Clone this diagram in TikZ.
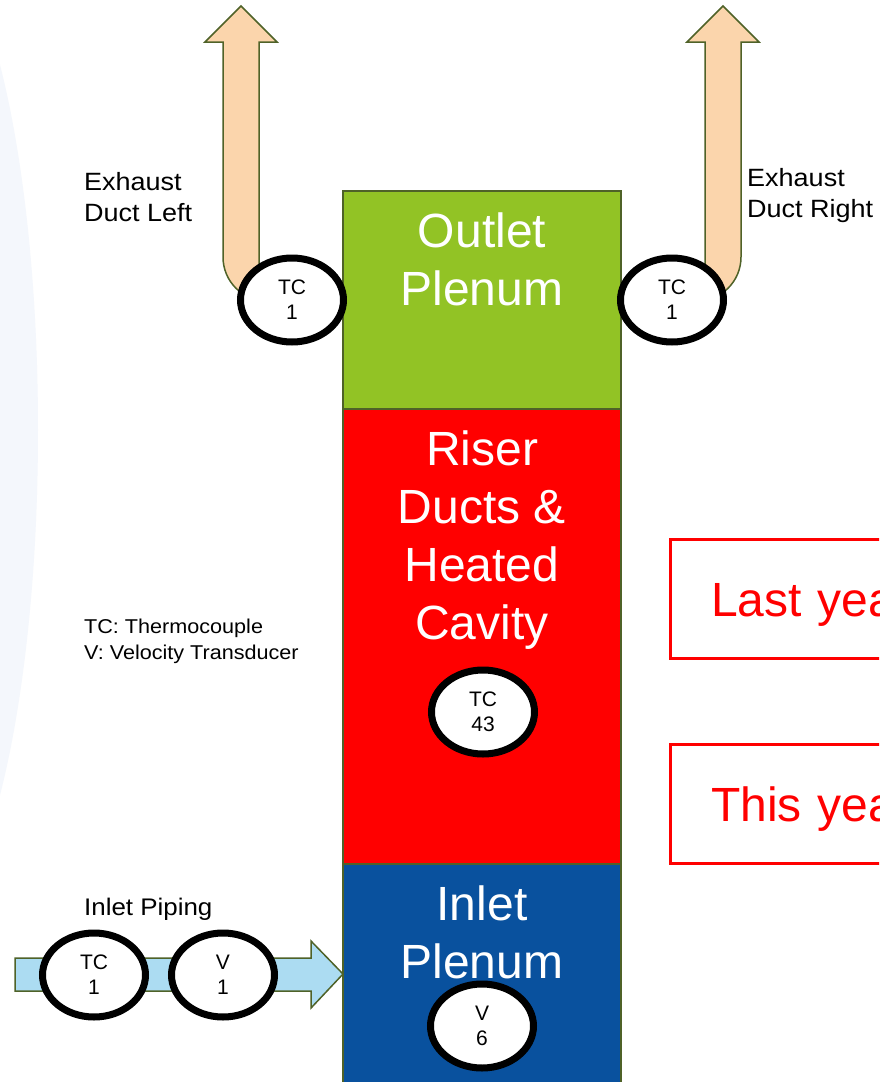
\documentclass[tikz,border=0pt]{standalone}
\usepackage{fontspec}
\setmainfont{Liberation Sans}
\newfontfamily\widesans[FakeStretch=1.08]{Liberation Sans}
\usetikzlibrary{positioning,shapes.geometric}
\definecolor{OliveEdge}{RGB}{79,98,40}
\definecolor{OutletGreen}{RGB}{146,195,37}
\definecolor{RiserRed}{RGB}{255,0,0}
\definecolor{InletBlue}{RGB}{9,81,158}
\definecolor{ExhaustPeach}{RGB}{251,213,172}
\definecolor{PipeBlue}{RGB}{172,220,242}
\definecolor{FaintBlue}{RGB}{244,247,252}
\newcommand{\plenumfont}{\fontsize{48}{58}\selectfont}
\newcommand{\labelfont}{\widesans\fontsize{25}{31}\selectfont}
\newcommand{\legendfont}{\widesans\fontsize{20}{25.5}\selectfont}
\newcommand{\sensorfont}{\fontsize{21}{25}\selectfont}
\tikzset{
  plenum/.style={draw=OliveEdge,line width=2pt,minimum width=278pt,outer sep=0pt,
    inner sep=0pt},
  plenumtext/.style={text=white,font=\plenumfont,align=center,inner sep=0pt},
  sensor/.style={ellipse,draw=black,fill=white,line width=7pt,minimum width=103pt,
    minimum height=84pt,inner sep=0pt,font=\sensorfont,align=center},
  duct/.style={draw=OliveEdge,line width=1.5pt,fill=ExhaustPeach},
  pipe/.style={draw=OliveEdge,line width=1.5pt,fill=PipeBlue},
  tag/.style={font=\labelfont,align=left,inner sep=0pt,anchor=north west},
  yearbox/.style={draw=red,line width=3pt,fill=white,text=red,font=\plenumfont,
    minimum height=119pt,text width=250pt,inner xsep=41pt,inner ysep=0pt,
    text height=35pt,text depth=0pt,align=left,outer sep=0pt,anchor=north west}
}

\begin{document}
\begin{tikzpicture}[x=1pt,y=-1pt,node distance=0pt]
  \useasboundingbox (0,0) rectangle (879,1082);
  \clip (0,0) rectangle (879,1082);
  \fill[white] (0,0) rectangle (879,1082);
  \fill[FaintBlue] (-82,430) ellipse [x radius=120pt,y radius=500pt];
  % test column
  \node[plenum,fill=OutletGreen,minimum height=218pt] (outlet) at (482,300) {};
  \node[plenum,fill=RiserRed,minimum height=455pt,below=of outlet] (riser) {};
  \node[plenum,fill=InletBlue,minimum height=260pt,below=of riser] (inlet) {};
  \node[plenumtext,below=22pt of outlet.north] (outlettext) {Outlet\\Plenum};
  \node[plenumtext,below=22pt of riser.north] (risertext) {Riser\\Ducts \&\\Heated\\Cavity};
  \node[plenumtext,below=22pt of inlet.north] (inlettext) {Inlet\\Plenum};
  % exhaust ducts
  \draw[duct] (223,42) -- (223,257) to[out=-90,in=180] (267,301) -- (292,301)
    -- (292,280) -- (259,280) -- (259,42) -- (277,42) -- (241,6) -- (205,42) -- cycle;
  \draw[duct] (741,42) -- (741,257) to[out=-90,in=0] (697,301) -- (672,301)
    -- (672,280) -- (705,280) -- (705,42) -- (687,42) -- (723,6) -- (759,42) -- cycle;
  % inlet piping
  \draw[pipe] (15,958) -- (311,958) -- (311,941) -- (343,974) -- (311,1008)
    -- (311,991) -- (15,991) -- cycle;
  % sensors
  \node[sensor] (tcleft) at (292,300) {TC\\1};
  \node[sensor] (tcright) at (672,300) {TC\\1};
  \node[sensor] (tcriser) at (483,712) {TC\\43};
  \node[sensor] (tcpipe) at (94,975) {TC\\1};
  \node[sensor] (vpipe) at (223,975) {V\\1};
  \node[sensor] (vplenum) at (482,1026) {V\\6};
  % labels
  \node[tag] (exleft) at (84,172) {Exhaust\\Duct Left};
  \node[tag] (exright) at (747,168) {Exhaust\\Duct Right};
  \node[tag,font=\legendfont] (legend) at (84,619) {TC: Thermocouple\\V: Velocity Transducer};
  \node[tag,font=\widesans\fontsize{24}{29}\selectfont] (pipelabel) at (84,898) {Inlet Piping};
  \node[yearbox] (lastyear) at (670,539) {Last year};
  \node[yearbox] (thisyear) at (670,744) {This year};
\end{tikzpicture}
\end{document}
